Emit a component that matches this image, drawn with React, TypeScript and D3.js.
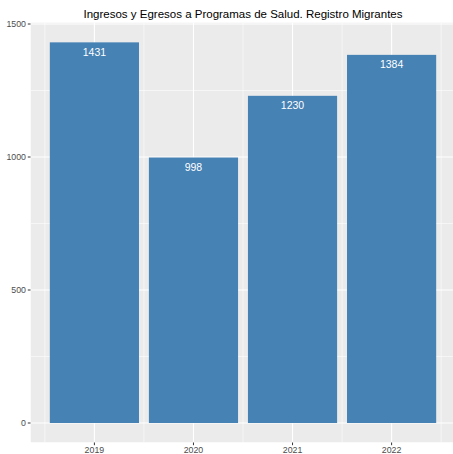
import React from 'react';
import * as d3 from 'd3';

const years = [2019, 2020, 2021, 2022];
const values = [1431, 998, 1230, 1384];
const yTicks = [0, 500, 1000, 1500];
const yMinor = [250, 750, 1250];
const title = 'Ingresos y Egresos a Programas de Salud. Registro Migrantes';

const W = 453;
const H = 454;
const panel = { left: 30.5, top: 22.5, right: 456, bottom: 442.5 };

const App: React.FC = () => {
  const x = d3.scaleLinear().domain([2018.355, 2022.645]).range([panel.left, 455.5]);
  const y = d3.scaleLinear().domain([0, 1500]).range([423, 24]);
  const barW = x(2019.45) - x(2018.55);
  const xMinor = years.map(d => d - 0.5).concat([years[years.length - 1] + 0.5]);

  return (
    <svg width={W} height={H} style={{ position: 'fixed', left: 0, top: 0, fontFamily: 'Liberation Sans, Arial, sans-serif' }}>
      <rect x={0} y={0} width={W} height={H} fill="white" />
      <defs>
        <clipPath id="panel">
          <rect x={panel.left} y={panel.top} width={panel.right - panel.left} height={panel.bottom - panel.top} />
        </clipPath>
      </defs>
      <g clipPath="url(#panel)">
        <rect x={panel.left} y={panel.top} width={panel.right - panel.left} height={panel.bottom - panel.top} fill="#EBEBEB" />
        {/* minor grid */}
        {yMinor.map(t => (
          <line key={'ym' + t} x1={panel.left} x2={panel.right} y1={y(t)} y2={y(t)} stroke="white" strokeWidth={0.55} />
        ))}
        {xMinor.map(t => (
          <line key={'xm' + t} x1={x(t)} x2={x(t)} y1={panel.top} y2={panel.bottom} stroke="white" strokeWidth={0.55} />
        ))}
        {/* major grid */}
        {yTicks.map(t => (
          <line key={'y' + t} x1={panel.left} x2={panel.right} y1={y(t)} y2={y(t)} stroke="white" strokeWidth={1.1} />
        ))}
        {years.map(t => (
          <line key={'x' + t} x1={x(t)} x2={x(t)} y1={panel.top} y2={panel.bottom} stroke="white" strokeWidth={1.1} />
        ))}
        {/* bars */}
        {years.map((yr, i) => (
          <rect key={'b' + yr} x={x(yr) - barW / 2} y={y(values[i])} width={barW} height={y(0) - y(values[i])} fill="#4682B4" />
        ))}
        {years.map((yr, i) => (
          <text key={'l' + yr} x={x(yr)} y={y(values[i]) + 13.5} textAnchor="middle" fill="white" fontSize={10.5}>
            {values[i]}
          </text>
        ))}
      </g>
      {/* y axis */}
      {yTicks.map(t => (
        <g key={'yt' + t}>
          <line x1={panel.left - 2.7} x2={panel.left} y1={y(t)} y2={y(t)} stroke="#333333" strokeWidth={1} />
          <text x={panel.left - 4.5} y={y(t)} dy="0.35em" textAnchor="end" fill="#4D4D4D" fontSize={8.8}>
            {t}
          </text>
        </g>
      ))}
      {/* x axis */}
      {years.map(t => (
        <g key={'xt' + t}>
          <line x1={x(t)} x2={x(t)} y1={panel.bottom} y2={panel.bottom + 2.7} stroke="#333333" strokeWidth={1} />
          <text x={x(t)} y={panel.bottom + 10} textAnchor="middle" fill="#4D4D4D" fontSize={8.8}>
            {t}
          </text>
        </g>
      ))}
      <text x={243} y={17.5} textAnchor="middle" fill="black" fontSize={11.5}>
        {title}
      </text>
    </svg>
  );
};

export default App;
